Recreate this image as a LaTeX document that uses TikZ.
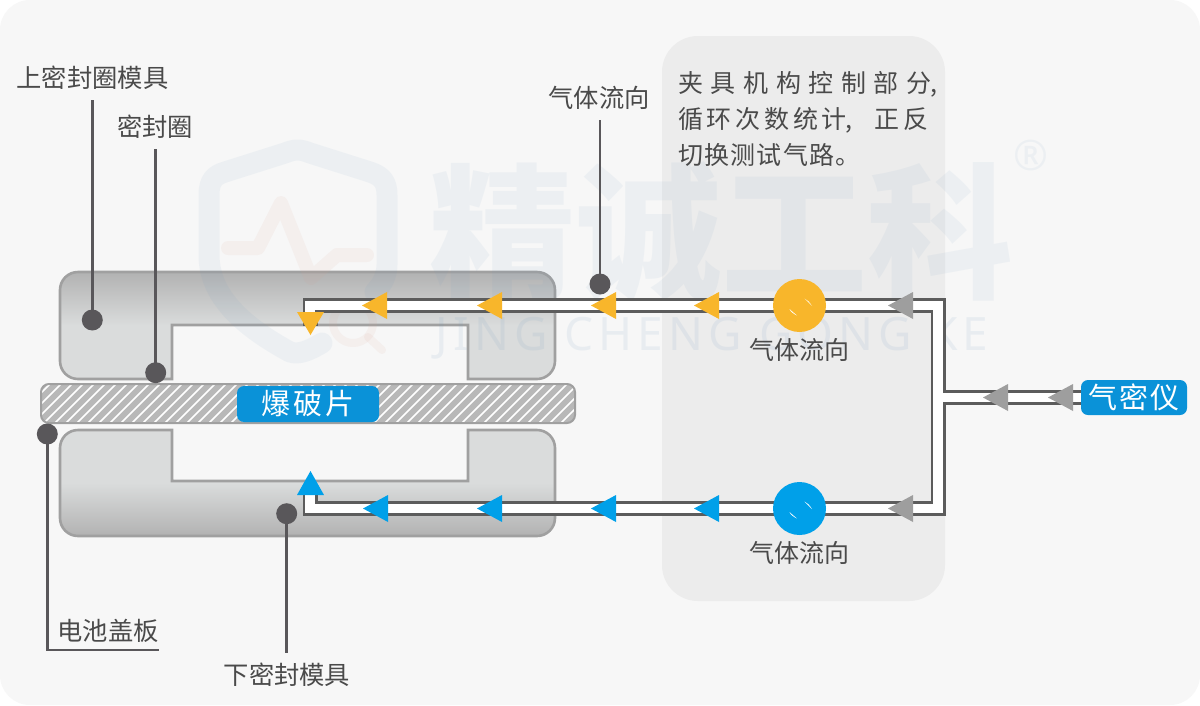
\documentclass[tikz,border=0pt]{standalone}
\usepackage{fontspec}
\newfontfamily\cjk{Noto Sans CJK SC}
\newfontfamily\latinmark[LetterSpace=11]{Noto Sans}
\newfontfamily\regmark{Noto Sans}
\definecolor{pagebg}{HTML}{F7F7F7}
\definecolor{panelbg}{HTML}{ECECEC}
\definecolor{dieedge}{HTML}{A0A0A0}
\definecolor{dielight}{HTML}{DADCDC}
\definecolor{diedark}{HTML}{B2B2B2}
\definecolor{sheetgrey}{HTML}{B8B8B8}
\definecolor{pipeedge}{HTML}{5C5C5C}
\definecolor{leadgrey}{HTML}{59575A}
\definecolor{ink}{HTML}{4A4A4A}
\definecolor{labelblue}{HTML}{0A92D8}
\definecolor{flowblue}{HTML}{00A0E9}
\definecolor{flowamber}{HTML}{F8B62B}
\definecolor{flowgrey}{HTML}{9E9E9E}
\definecolor{markblue}{HTML}{6F9AC0}
\definecolor{markrose}{HTML}{D9A090}
\pgfdeclareverticalshading{upperdie}{100bp}{color(0bp)=(dielight); color(50bp)=(dielight); color(75bp)=(diedark); color(100bp)=(diedark)}
\pgfdeclareverticalshading{lowerdie}{100bp}{color(0bp)=(diedark); color(25bp)=(diedark); color(50bp)=(dielight); color(100bp)=(dielight)}
\tikzset{
  diebody/.style={draw=dieedge,line width=2.6pt},
  pipeouter/.style={draw=pipeedge,line width=15pt,line join=miter},
  pipeinner/.style={draw=white,line width=9.6pt,line join=miter},
  leader/.style={draw=leadgrey,line width=2.7pt},
  dotmark/.style={circle,fill=leadgrey,inner sep=0pt,minimum size=21pt},
  caption/.style={text=ink,inner sep=0pt,minimum height=44pt,font=\cjk\fontsize{25.3}{25.3}\selectfont},
  noteline/.style={text=ink,inner sep=0pt,anchor=west,font=\cjk\fontsize{25}{25}\selectfont},
  tag/.style={fill=labelblue,text=white,rounded corners=7pt,inner sep=0pt,font=\cjk\fontsize{29}{29}\selectfont},
  valve/.style={circle,inner sep=0pt,minimum size=53pt},
  wmshield/.style={draw=markblue,opacity=.08,line width=21pt,line cap=round,line join=round},
  wmpulse/.style={draw=markrose,opacity=.09,line cap=round,line join=round},
  wmtext/.style={text=markblue,text opacity=.08,inner sep=0pt}
}
% left-pointing flow mark: tip x, centre y, colour
\newcommand{\flowleft}[3]{\fill[#3] (#1,#2) -- (#1+25,#2-13.5) -- (#1+25,#2+13.5) -- cycle;}
% small glints on a valve disc
\newcommand{\glint}[2]{%
  \fill[white] (#1+5,#2-7) .. controls (#1+8,#2-5.5) and (#1+10,#2-3.5) .. (#1+12.5,#2+0.5)
     .. controls (#1+9,#2-3) and (#1+8,#2-4) .. cycle;
  \fill[white] (#1-10,#2+3.5) .. controls (#1-9,#2+6) and (#1-6,#2+8.5) .. (#1-2.5,#2+10)
     .. controls (#1-6,#2+7) and (#1-8,#2+5.5) .. cycle;}
% one glyph in a cell of a given width, for the evenly spaced note lines
\newcommand{\gcell}[2]{\makebox[#1pt][l]{#2}}
\begin{document}
\begin{tikzpicture}[x=1pt,y=-1pt]
\useasboundingbox (0,0) rectangle (1200,705);
\fill[white] (0,0) rectangle (1200,705);
\fill[pagebg,rounded corners=30pt] (0,0) rectangle (1200,705);

% control panel
\fill[panelbg,rounded corners=36pt] (662,36) rectangle (945,601);

% upper and lower dies
\path[diebody,shading=upperdie] (172,379) -- (100,379) [rounded corners=18pt] -- (60,379) -- (60,272)
  -- (555,272) -- (555,379) -- (500,379) [sharp corners] -- (468,379) -- (468,325) -- (172,325) -- cycle;
\path[diebody,shading=lowerdie] (172,430) -- (100,430) [rounded corners=18pt] -- (60,430) -- (60,536)
  -- (555,536) -- (555,430) -- (500,430) [sharp corners] -- (468,430) -- (468,481) -- (172,481) -- cycle;

% brand mark behind the gas lines
\draw[wmshield] (322,343) .. controls (310,350) and (300,355) .. (290,352)
  .. controls (250,330) and (209,300) .. (209,255) -- (209,195)
  .. controls (209,180) and (215,175) .. (225,172) -- (285,153)
  .. controls (295,149) and (300,149) .. (310,153) -- (370,172)
  .. controls (382,176) and (387,182) .. (387,195) -- (387,265)
  .. controls (387,275) and (382,285) .. (375,292);
\draw[wmpulse,line width=14pt] (228,248) -- (258,248) -- (281,203) -- (311,278) -- (337,255) -- (367,255);
\draw[wmpulse,line width=8pt] (353,323) circle (20pt);
\draw[wmpulse,line width=8pt] (368,337) -- (382,350);
\node[wmtext,font=\cjk\bfseries\fontsize{146}{146}\selectfont] (brandcn) at (718,232)
  {\makebox[578pt][s]{精\hfil 诚\hfil 工\hfil 科}};
\node[wmtext,text opacity=.11,font=\latinmark\fontsize{46}{46}\selectfont] (branden) at (712,338)
  {JING CHENG GONG KE};
\node[wmtext,font=\regmark\bfseries\fontsize{42}{42}\selectfont] (brandreg) at (1031,156) {®};

% burst sheet with diagonal hatching
\begin{scope}
  \path[clip,rounded corners=8pt] (41,384) rectangle (575,423);
  \fill[sheetgrey] (41,384) rectangle (575,423);
  \foreach \hx in {0,11,...,594}{
    \draw[white,line width=1.7pt] (\hx,423) -- (\hx+39,384);
  }
\end{scope}
\draw[draw=dieedge,line width=2pt,rounded corners=8pt] (41,384) rectangle (575,423);
\node[tag,minimum width=142pt,minimum height=36pt] (sheet) at (308,404)
  {\makebox[94pt][s]{爆\hfil 破\hfil 片}};

% gas lines: tester to junction, then to each die
\coordinate (junction) at (938,397.5);
\coordinate (topright) at (938,305.5);
\coordinate (topleft) at (310,305.5);
\coordinate (topend) at (310,326);
\coordinate (botright) at (938,508.5);
\coordinate (botleft) at (310,508.5);
\coordinate (botend) at (310,488);
\coordinate (testerport) at (1090,397.5);
\path[pipeouter] (topend) -- (topleft) -- (topright) -- (botright) -- (botleft) -- (botend);
\path[pipeouter] (junction) -- (testerport);
\path[pipeinner] (topend) -- (topleft) -- (topright) -- (botright) -- (botleft) -- (botend);
\path[pipeinner] (junction) -- (testerport);
\node[tag,minimum width=106pt,minimum height=35pt] (tester) at (1134,397.5)
  {\makebox[91pt][s]{气\hfil 密\hfil 仪}};

% valves
\node[valve,fill=flowamber] (valvetop) at (799.5,305.5) {};
\node[valve,fill=flowblue] (valvebot) at (799.5,508.5) {};
\glint{799.5}{305.5}
\glint{799.5}{508.5}

% flow direction marks
\flowleft{362}{305.5}{flowamber}
\flowleft{477}{305.5}{flowamber}
\flowleft{591}{305.5}{flowamber}
\flowleft{694}{305.5}{flowamber}
\flowleft{888}{305.5}{flowgrey}
\flowleft{363}{508.5}{flowblue}
\flowleft{477}{508.5}{flowblue}
\flowleft{591}{508.5}{flowblue}
\flowleft{694}{508.5}{flowblue}
\flowleft{888}{508.5}{flowgrey}
\flowleft{983}{397.5}{flowgrey}
\flowleft{1048}{397.5}{flowgrey}
\fill[flowamber] (310.5,335) -- (297,312) -- (324,312) -- cycle;
\fill[flowblue] (310.5,471) -- (297,495) -- (324,495) -- cycle;

% captions and leaders
\node[dotmark] (dottop) at (92.3,320) {};
\node[dotmark] (dotseal) at (155.7,372.7) {};
\node[dotmark] (dotcover) at (47.3,434) {};
\node[dotmark] (dotlow) at (286.7,513.7) {};
\node[dotmark] (dotflow) at (600,284) {};

\node[caption] (captop) at (92.5,78) {上密封圈模具};
\node[caption] (capseal) at (155,127) {密封圈};
\node[caption] (capflow) at (599,98) {气体流向};
\node[caption] (capcover) at (108,631) {电池盖板};
\node[caption] (caplow) at (287,675) {下密封模具};
\node[noteline,anchor=center] (capvtop) at (799,350) {气体流向};
\node[noteline,anchor=center] (capvbot) at (799,553) {气体流向};

\path[leader] (dottop.center) -- (dottop.center |- captop.south);
\path[leader] (dotseal.center) -- (dotseal.center |- capseal.south);
\path[leader] (dotflow.center) -- (dotflow.center |- capflow.south);
\path[leader] (dotlow.center) -- (dotlow.center |- caplow.north);
\coordinate (coverbend) at (47.3,650);
\coordinate (coverend) at (159,650);
\path[leader] (dotcover.center) -- (coverbend) -- (coverend);

% panel note
\node[noteline] (noteone) at (678,84)
  {\gcell{32.6}{夹}\gcell{32.6}{具}\gcell{32.6}{机}\gcell{32.6}{构}\gcell{32.6}{控}\gcell{32.6}{制}\gcell{32.6}{部}\gcell{24.5}{分}\gcell{25}{,}};
\node[noteline] (notetwo) at (678,120)
  {\gcell{28.7}{循}\gcell{28.7}{环}\gcell{28.7}{次}\gcell{28.7}{数}\gcell{28.7}{统}\gcell{23.5}{计}\gcell{29.5}{,}\gcell{29}{正}\gcell{25}{反}};
\node[noteline] (notethree) at (678,155)
  {\gcell{26.2}{切}\gcell{26.2}{换}\gcell{26.2}{测}\gcell{26.2}{试}\gcell{26.2}{气}\gcell{26.2}{路}\gcell{25}{。}};
\end{tikzpicture}
\end{document}
